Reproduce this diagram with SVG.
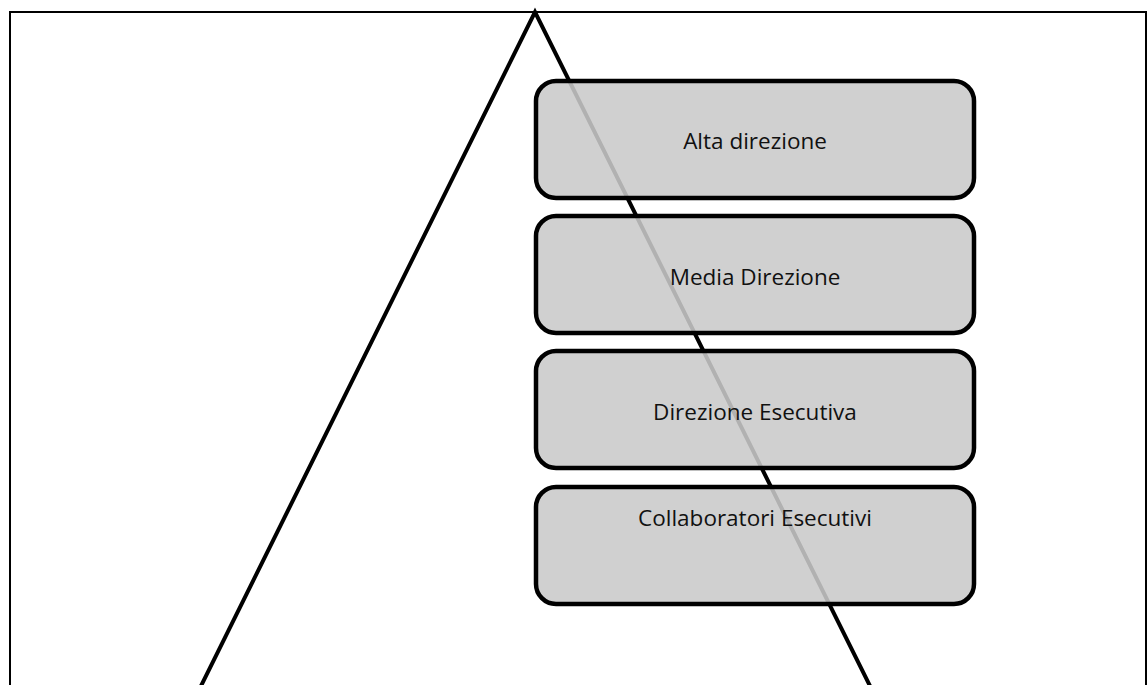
<svg xmlns="http://www.w3.org/2000/svg" width="1147" height="685" viewBox="0 0 1147 685">
  <style>
    .frame { fill: none; stroke: #000; stroke-width: 2; }
    .pyramid { fill: none; stroke: #000; stroke-width: 4; stroke-linejoin: miter; }
    .level { fill: #cacaca; fill-opacity: 0.88; stroke: #000; stroke-width: 4.5; }
    .label { font-family: "Open Sans", "Liberation Sans", sans-serif; font-size: 22.5px; fill: #111; text-anchor: middle; }
  </style>
  <rect width="1147" height="685" fill="#fff"/>
  <!-- page frame, open at the bottom -->
  <path class="frame" d="M10 685 V12 H1146 V685"/>
  <!-- pyramid outline, drawn behind the levels -->
  <g id="pyramid">
    <path class="pyramid" d="M199 690 L535 12 L872 690"/>
  </g>
  <g id="connectors"></g>
  <g id="alta-direzione">
    <rect class="level" x="536" y="81" width="438" height="117" rx="20"/>
    <text class="label" x="755" y="149">Alta direzione</text>
  </g>
  <g id="media-direzione">
    <rect class="level" x="536" y="216" width="438" height="117" rx="20"/>
    <text class="label" x="755" y="285">Media Direzione</text>
  </g>
  <g id="direzione-esecutiva">
    <rect class="level" x="536" y="351" width="438" height="117" rx="20"/>
    <text class="label" x="755" y="420">Direzione Esecutiva</text>
  </g>
  <g id="collaboratori-esecutivi">
    <rect class="level" x="536" y="487" width="438" height="117" rx="20"/>
    <text class="label" x="755" y="526">Collaboratori Esecutivi</text>
  </g>
</svg>
